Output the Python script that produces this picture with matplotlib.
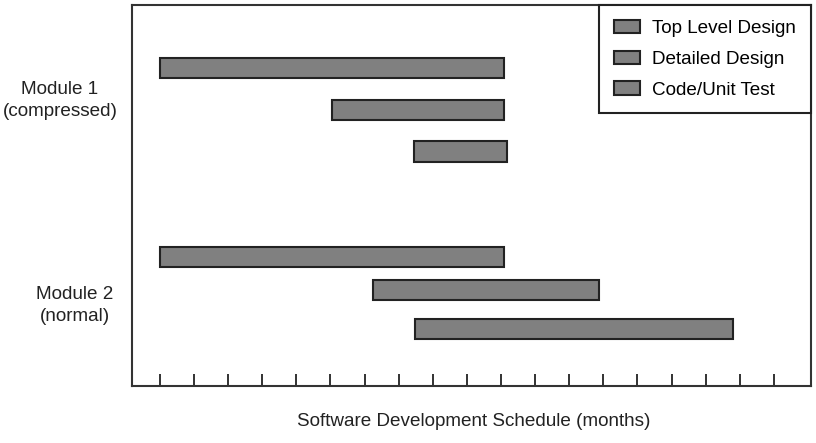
import numpy as np
import matplotlib.pyplot as plt
import matplotlib
from matplotlib.patches import Patch

matplotlib.rc('font', family='Liberation Sans', size=13.6)

tasks = ['Top Level Design', 'Detailed Design', 'Code/Unit Test']
modules = ['Module 1\n(compressed)', 'Module 2\n(normal)']

# start / end in months
m1_start = [0.0, 5.04, 7.45]
m1_end = [10.1, 10.1, 10.17]
m2_start = [0.0, 6.25, 7.49]
m2_end = [10.1, 12.88, 16.79]

months = np.arange(0, 19)

# vertical layout (arbitrary units)
m1_rows = [8.35, 7.24, 6.15]
m2_rows = [3.39, 2.52, 1.50]
label_rows = [7.5, 2.12]
bar_h = 0.54

W, H = 816, 443
fig = plt.figure(figsize=(W / 100, H / 100), dpi=100)
ax = fig.add_axes([132 / W, (H - 386) / H, (811 - 132) / W, (386 - 5) / H])

fill = '#808080'
edge = '#222222'
ax.barh(m1_rows, np.subtract(m1_end, m1_start), left=m1_start, height=bar_h,
        color=fill, edgecolor=edge, linewidth=1.5)
ax.barh(m2_rows, np.subtract(m2_end, m2_start), left=m2_start, height=bar_h,
        color=fill, edgecolor=edge, linewidth=1.5)

ax.set_xlim(-0.82, 19.09)
ax.set_ylim(0, 10)
ax.set_xticks(months)
ax.set_xticklabels([])
ax.set_yticks([])
ax.tick_params(axis='x', direction='in', length=8.5, width=1.3, color='#222222')
for s in ax.spines.values():
    s.set_color('#333333')
    s.set_linewidth(1.5)

tr = ax.get_yaxis_transform()
ax.text(-0.106, label_rows[0], modules[0], transform=tr, ha='center', va='center',
        linespacing=1.4, color='#222222')
ax.text(-0.084, label_rows[1], modules[1], transform=tr, ha='center', va='center',
        linespacing=1.4, color='#222222')

fig.text(474 / W, 1 - 421 / H, 'Software Development Schedule (months)',
         ha='center', va='center', color='#222222')

handles = [Patch(facecolor=fill, edgecolor=edge, linewidth=1.5) for _ in tasks]
leg = ax.legend(handles, tasks, loc='upper right', borderaxespad=0,
                fancybox=False, framealpha=1, edgecolor='#222222',
                handlelength=1.4, handleheight=0.7, handletextpad=0.64,
                labelspacing=0.72, borderpad=0.78)
leg.get_frame().set_linewidth(1.5)

plt.savefig('out.png', dpi=100)
